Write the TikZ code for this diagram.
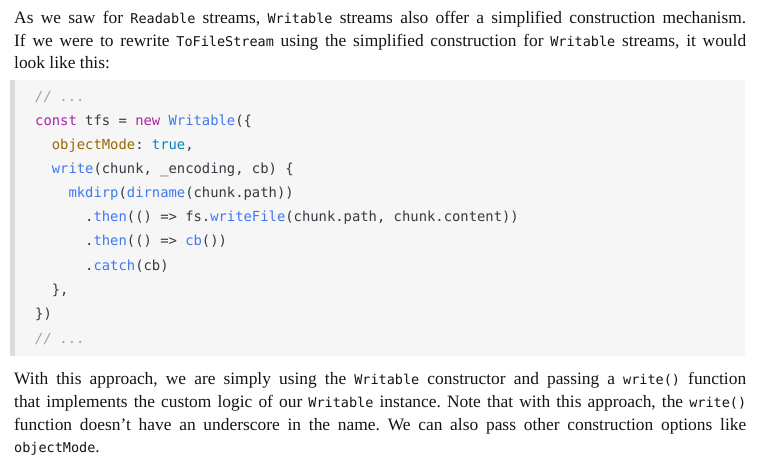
\documentclass[tikz,border=0pt]{standalone}
\usepackage{fontspec}
\setmainfont{Liberation Serif}
\setmonofont{DejaVu Sans Mono}
\frenchspacing
\definecolor{cbg}{HTML}{F6F6F6}
\definecolor{cbar}{HTML}{DCDCDC}
\definecolor{ccom}{HTML}{A0A1A7}
\definecolor{ckw}{HTML}{A626A4}
\definecolor{cfn}{HTML}{4078F2}
\definecolor{cprop}{HTML}{986801}
\definecolor{clit}{HTML}{0184BC}
\definecolor{ctxt}{HTML}{383A42}
\newcommand{\ic}[1]{{\ttfamily\fontsize{13.5}{15}\selectfont #1}}
\newcommand{\kw}[1]{\textcolor{ckw}{#1}}
\newcommand{\fn}[1]{\textcolor{cfn}{#1}}
\newcommand{\pr}[1]{\textcolor{cprop}{#1}}
\newcommand{\cm}[1]{\textcolor{ccom}{\itshape #1}}
\tikzset{
 para/.style={anchor=base west,inner sep=0pt,font=\fontsize{17.4}{20}\selectfont,text=black!92},
 code/.style={anchor=base west,inner sep=0pt,font=\ttfamily\fontsize{13.85}{16}\selectfont,text=ctxt}
}
\begin{document}
\begin{tikzpicture}[x=1pt,y=-1pt]
\useasboundingbox (0,0) rectangle (760,469);
\fill[cbg] (10,80) rectangle (745,356);
\fill[cbar] (10,80) rectangle (15,356);
\node[para] (p1) at (14,23) {\makebox[732pt][s]{As we saw for \ic{Readable} streams, \ic{Writable} streams also offer a simplified construction mechanism.}};
\node[para] (p2) at (14,46) {\makebox[732pt][s]{If we were to rewrite \ic{ToFileStream} using the simplified construction for \ic{Writable} streams, it would}};
\node[para] (p3) at (14,68) {look like this:};
\node[code] (c1) at (35,101) {\cm{// ...}};
\node[code] (c2) at (35,125) {\kw{const} tfs = \kw{new} \fn{Writable}(\{};
\node[code] (c3) at (35,149) {\ \ \pr{objectMode}: \textcolor{clit}{true},};
\node[code] (c4) at (35,173) {\ \ \fn{write}(chunk, \_encoding, cb) \{};
\node[code] (c5) at (35,197) {\ \ \ \ \fn{mkdirp}(\fn{dirname}(chunk.path))};
\node[code] (c6) at (35,221) {\ \ \ \ \ \ .\fn{then}(() => fs.\fn{writeFile}(chunk.path, chunk.content))};
\node[code] (c7) at (35,245) {\ \ \ \ \ \ .\fn{then}(() => \fn{cb}())};
\node[code] (c8) at (35,270) {\ \ \ \ \ \ .\fn{catch}(cb)};
\node[code] (c9) at (35,294) {\ \ \},};
\node[code] (c10) at (35,318) {\})};
\node[code] (c11) at (35,343) {\cm{// ...}};
\node[para] (q1) at (14,384) {\makebox[732pt][s]{With this approach, we are simply using the \ic{Writable} constructor and passing a \ic{write()} function}};
\node[para] (q2) at (14,407) {\makebox[732pt][s]{that implements the custom logic of our \ic{Writable} instance. Note that with this approach, the \ic{write()}}};
\node[para] (q3) at (14,430) {\makebox[732pt][s]{function doesn't have an underscore in the name. We can also pass other construction options like}};
\node[para] (q4) at (14,452) {\ic{objectMode}.};
\end{tikzpicture}
\end{document}
